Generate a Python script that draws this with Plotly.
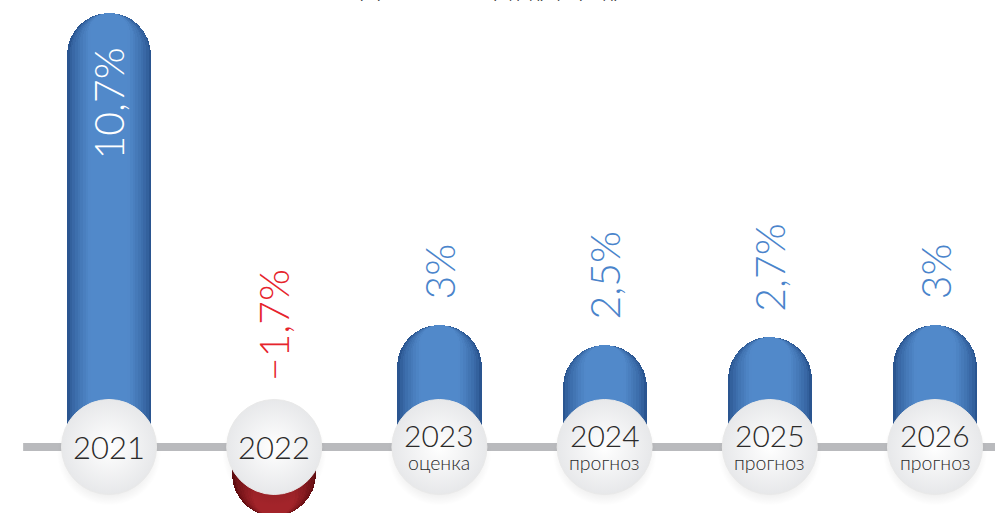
import plotly.graph_objects as go

years = ["2021", "2022", "2023", "2024", "2025", "2026"]
growth = [10.7, -1.7, 3.0, 2.5, 2.7, 3.0]
value_labels = ["10,7%", "\u22121,7%", "3%", "2,5%", "2,7%", "3%"]
sub_labels = ["", "", "оценка", "прогноз", "прогноз", "прогноз"]
title_text = "Темпы прироста ВВП, % к предыдущему году"

FONT = "Lato"
W = 300
BAR_W = 0.51
N_LAYERS = 14


def mix(c1, c2, t):
    a = [int(c1[i:i + 2], 16) for i in (1, 3, 5)]
    b = [int(c2[i:i + 2], 16) for i in (1, 3, 5)]
    return "#" + "".join(f"{round(a[k] + (b[k] - a[k]) * t):02x}" for k in range(3))


BLUE_EDGE, BLUE_MID = "#2a5590", "#5189ca"
RED_EDGE, RED_MID = "#620c10", "#a3242a"

fig = go.Figure()

# tube-like bars: overlaid rounded bars of decreasing width
for i in range(N_LAYERS):
    t = i / (N_LAYERS - 1)
    f = 1.0 - 0.82 * t
    tt = min(1.0, (t * 1.6) ** 0.7)
    cols = [mix(BLUE_EDGE, BLUE_MID, tt) if v >= 0 else mix(RED_EDGE, RED_MID, tt) for v in growth]
    fig.add_trace(go.Bar(
        x=years, y=growth, width=BAR_W * f,
        marker=dict(color=cols, cornerradius="50%", line=dict(width=0)),
        hoverinfo="skip", showlegend=False,
    ))

# circle shadows
fig.add_trace(go.Scatter(
    x=years, y=[-0.16] * len(years), mode="markers",
    marker=dict(size=104, color="rgba(0,0,0,0)",
                gradient=dict(type="radial", color="rgba(0,0,0,0.28)"),
                line=dict(width=0)),
    hoverinfo="skip", showlegend=False,
))
# circles
fig.add_trace(go.Scatter(
    x=years, y=[0] * len(years), mode="markers",
    marker=dict(size=95, color="#e7e8ea",
                gradient=dict(type="radial", color="#ffffff"),
                line=dict(width=1, color="#e9e9e9")),
    hoverinfo="skip", showlegend=False,
))

annotations = []
for i, (yr, v, lab, sub) in enumerate(zip(years, growth, value_labels, sub_labels)):
    # value labels (vertical)
    if v > 5:
        annotations.append(dict(x=i, y=v, text=lab, textangle=-90, showarrow=False,
                                yanchor="top", yshift=-33,
                                font=dict(family=FONT, size=41, color="#ffffff", weight=W)))
    elif v >= 0:
        annotations.append(dict(x=i, y=v, text=lab, textangle=-90, showarrow=False,
                                yanchor="bottom", yshift=24,
                                font=dict(family=FONT, size=41, color="#4a84cb", weight=W)))
    else:
        annotations.append(dict(x=i, y=0, text=lab, textangle=-90, showarrow=False,
                                yanchor="bottom", yshift=64,
                                font=dict(family=FONT, size=41, color="#e6242c", weight=W)))
    # year labels
    if sub:
        annotations.append(dict(x=i, y=0, text=yr, showarrow=False, yshift=12,
                                font=dict(family=FONT, size=30, color="#2a2a2a", weight=W)))
        annotations.append(dict(x=i, y=0, text=sub, showarrow=False, yshift=-16,
                                font=dict(family=FONT, size=19.5, color="#2a2a2a", weight=W)))
    else:
        annotations.append(dict(x=i, y=0, text=yr, showarrow=False,
                                font=dict(family=FONT, size=31, color="#2a2a2a", weight=W)))

annotations.append(dict(xref="paper", yref="paper", x=0.625, y=1, xanchor="right",
                        yanchor="bottom", yshift=-3, text=title_text, showarrow=False,
                        font=dict(family=FONT, size=15, color="#444444")))

fig.update_layout(
    width=995, height=513,
    margin=dict(l=0, r=0, t=0, b=0),
    paper_bgcolor="white", plot_bgcolor="white",
    barmode="overlay", bargap=0,
    xaxis=dict(type="category", range=[-0.66, 5.363], visible=False, fixedrange=True),
    yaxis=dict(range=[-1.626, 11.01], visible=False, fixedrange=True),
    shapes=[dict(type="line", xref="x", yref="y", x0=-0.52, x1=5.7, y0=0, y1=0,
                 layer="below", line=dict(color="#b9babd", width=8))],
    annotations=annotations,
    showlegend=False,
)

fig.write_html("out.html", config={"displayModeBar": False},
               post_script="document.body.style.margin='0';document.body.style.overflow='hidden';")
